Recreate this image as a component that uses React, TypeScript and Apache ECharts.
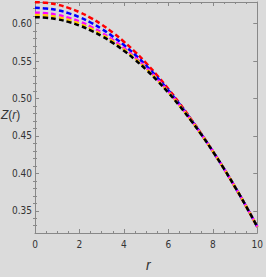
import React, { useEffect, useRef } from "react";
import * as echarts from "echarts";

const rValues = [0, 0.5, 1, 1.5, 2, 2.5, 3, 3.5, 4, 4.5, 5, 5.5, 6, 6.5, 7, 7.5, 8, 8.5, 9, 9.5, 10];
const zRed = [0.6285, 0.6277, 0.6252, 0.621, 0.6152, 0.6077, 0.5986, 0.588, 0.5758, 0.5622, 0.5471, 0.5306, 0.5127, 0.4937, 0.4734, 0.452, 0.4296, 0.4062, 0.3817, 0.3558, 0.3285];
const zBlue = [0.621, 0.6202, 0.6179, 0.6139, 0.6085, 0.6014, 0.5929, 0.5828, 0.5713, 0.5583, 0.5439, 0.528, 0.5109, 0.4924, 0.4726, 0.4516, 0.4295, 0.4062, 0.3817, 0.3558, 0.3285];
const zMagenta = [0.6145, 0.6138, 0.6115, 0.6078, 0.6027, 0.596, 0.5879, 0.5783, 0.5673, 0.5549, 0.5411, 0.5258, 0.5092, 0.4912, 0.4719, 0.4513, 0.4293, 0.4062, 0.3817, 0.3558, 0.3285];
const zYellow = [0.6115, 0.6108, 0.6086, 0.605, 0.5999, 0.5935, 0.5856, 0.5763, 0.5655, 0.5534, 0.5398, 0.5248, 0.5085, 0.4907, 0.4716, 0.4511, 0.4293, 0.4062, 0.3817, 0.3558, 0.3285];
const zBlack = [0.6085, 0.6078, 0.6057, 0.6022, 0.5973, 0.591, 0.5833, 0.5742, 0.5637, 0.5518, 0.5385, 0.5238, 0.5077, 0.4902, 0.4713, 0.451, 0.4293, 0.4062, 0.3817, 0.3558, 0.3285];

const yMajorTicks = [0.35, 0.4, 0.45, 0.5, 0.55, 0.6];
const yMinorTicks = [0.33, 0.34, 0.36, 0.37, 0.38, 0.39, 0.41, 0.42, 0.43, 0.44, 0.46, 0.47, 0.48, 0.49, 0.51, 0.52, 0.53, 0.54, 0.56, 0.57, 0.58, 0.59, 0.61, 0.62];

const seriesDefs = [
  { name: "red", color: "#ff0000", data: zRed },
  { name: "blue", color: "#0000ff", data: zBlue },
  { name: "magenta", color: "#ff00ff", data: zMagenta },
  { name: "yellow", color: "#ffcc00", data: zYellow },
  { name: "black", color: "#000000", data: zBlack },
];

const Y_MIN = 0.3203;
const Y_MAX = 0.6288;
const FRAME = "#888888";
const LABEL_FONT = "'Liberation Sans Narrow', 'DejaVu Sans Condensed', 'Liberation Sans', sans-serif";

export default function App() {
  const ref = useRef<HTMLDivElement>(null);
  useEffect(() => {
    document.body.style.margin = "0";
    const chart = echarts.init(ref.current!, null, { renderer: "svg" });
    const xCommon = {
      type: "value" as const,
      min: 0,
      max: 10,
      interval: 2,
      splitLine: { show: false },
      axisLine: { show: true, onZero: false, lineStyle: { color: FRAME, width: 1 } },
      axisTick: { show: true, inside: true, length: 4, lineStyle: { color: FRAME } },
      minorTick: { show: true, splitNumber: 4, length: 2, lineStyle: { color: FRAME } },
    };
    const yCommon = {
      type: "value" as const,
      min: Y_MIN,
      max: Y_MAX,
      splitLine: { show: false },
    };
    chart.setOption({
      animation: false,
      backgroundColor: "#dbdbdb",
      grid: { left: 35, right: 4, top: 2, bottom: 44, containLabel: false },
      xAxis: [
        {
          ...xCommon,
          position: "bottom",
          axisLabel: { show: true, fontSize: 10, color: "#333", margin: 6, fontFamily: LABEL_FONT },
        },
        {
          ...xCommon,
          position: "top",
          axisLabel: { show: false },
        },
      ],
      yAxis: [
        {
          ...yCommon,
          position: "left",
          axisLine: { show: true, onZero: false, lineStyle: { color: FRAME, width: 1 } },
          axisTick: { show: true, inside: true, length: 4, customValues: yMajorTicks, lineStyle: { color: FRAME } },
          axisLabel: {
            show: true,
            customValues: yMajorTicks,
            fontSize: 10,
            color: "#333",
            margin: 3,
            fontFamily: LABEL_FONT,
            formatter: (v: number) => v.toFixed(2),
          },
        },
        {
          ...yCommon,
          position: "right",
          axisLine: { show: true, onZero: false, lineStyle: { color: FRAME, width: 1 } },
          axisTick: { show: true, inside: true, length: 4, customValues: yMajorTicks, lineStyle: { color: FRAME } },
          axisLabel: { show: false },
        },
        {
          ...yCommon,
          position: "left",
          axisLine: { show: false },
          axisTick: { show: true, inside: true, length: 2, customValues: yMinorTicks, lineStyle: { color: FRAME } },
          axisLabel: { show: false },
        },
        {
          ...yCommon,
          position: "right",
          axisLine: { show: false },
          axisTick: { show: true, inside: true, length: 2, customValues: yMinorTicks, lineStyle: { color: FRAME } },
          axisLabel: { show: false },
        },
      ],
      series: seriesDefs.map((s) => ({
        name: s.name,
        type: "line",
        xAxisIndex: 0,
        yAxisIndex: 0,
        smooth: true,
        symbol: "none",
        data: rValues.map((r, i) => [r, s.data[i]]),
        lineStyle: { color: s.color, width: 2.5, type: [5, 3] },
      })),
      graphic: [
        {
          type: "text",
          left: 1,
          top: 109,
          style: {
            text: "{i|Z}{n|(}{i|r}{n|)}",
            rich: {
              i: { fontStyle: "italic", fontSize: 12, fill: "#333", fontFamily: "'Liberation Sans', sans-serif" },
              n: { fontSize: 12, fill: "#333", fontFamily: "'Liberation Sans', sans-serif" },
            },
          },
        },
        {
          type: "text",
          left: 146,
          top: 258,
          style: {
            text: "r",
            fontStyle: "italic",
            fontSize: 14,
            fill: "#333",
            fontFamily: "'Liberation Sans', sans-serif",
          },
        },
      ],
    });
    return () => chart.dispose();
  }, []);
  return <div ref={ref} style={{ position: "fixed", left: 0, top: 0, width: 266, height: 277 }} />;
}
